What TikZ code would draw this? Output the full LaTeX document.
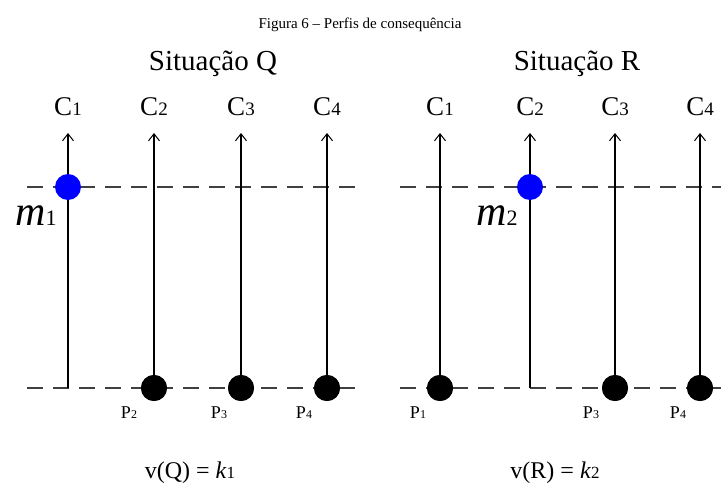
\documentclass[tikz,border=0pt]{standalone}
\usepackage{fontspec}
\setmainfont{Liberation Serif}
\usetikzlibrary{arrows.meta}
\newcommand{\fs}[1]{\fontsize{#1}{#1}\selectfont}
\begin{document}
\begin{tikzpicture}[x=1pt,y=-1pt,
  dline/.style={draw=black!75,line width=1.4pt,dash pattern=on 16pt off 10pt},
  axis/.style={draw=black,line width=1.2pt,-{Straight Barb[length=7pt,width=11pt,line width=1pt]}},
  bdot/.style={circle,fill=blue,inner sep=0pt,minimum size=26pt},
  kdot/.style={circle,fill=black,inner sep=0pt,minimum size=26pt},
  clab/.style={anchor=base,inner sep=0pt,font=\fs{27}},
  plab/.style={anchor=base,inner sep=0pt,font=\fs{18}},
  mlab/.style={anchor=base,inner sep=0pt},
  ttl/.style={anchor=base,inner sep=0pt}
]
\useasboundingbox (0,0) rectangle (721,490);
\node[ttl,font=\fs{15}] (title) at (360,28) {Figura 6 – Perfis de consequência};
\node[ttl,font=\fs{29}] (sq) at (213,70) {Situação Q};
\node[ttl,font=\fs{29}] (sr) at (577,70) {Situação R};
% --- Q ---
\coordinate (qtl) at (27,187); \coordinate (qtr) at (362,187);
\coordinate (qbl) at (27,388); \coordinate (qbr) at (362,388);
\draw[dline] (qtl) -- (qtr);
\draw[dline] (qbl) -- (qbr);
\coordinate (q1b) at (68,388);
\coordinate (q1t) at (68,133); \coordinate (q2t) at (154,133);
\coordinate (q3t) at (241,133); \coordinate (q4t) at (327,133);
\node[kdot] (qp2) at (154,388) {};
\node[kdot] (qp3) at (241,388) {};
\node[kdot] (qp4) at (327,388) {};
\draw[axis] (q1b) -- (q1t);
\draw[axis] (qp2.center) -- (q2t);
\draw[axis] (qp3.center) -- (q3t);
\draw[axis] (qp4.center) -- (q4t);
\node[kdot] at (154,388) {};
\node[kdot] at (241,388) {};
\node[kdot] at (327,388) {};
\node[bdot] (qm) at (68,187) {};
\node[clab] (qc1) at (68,115) {C{\fs{19}1}};
\node[clab] (qc2) at (154,115) {C{\fs{19}2}};
\node[clab] (qc3) at (241,115) {C{\fs{19}3}};
\node[clab] (qc4) at (327,115) {C{\fs{19}4}};
\node[mlab] (m1) at (36,225) {{\fs{42}\itshape m}{\fs{22}1}};
\node[plab] (p2) at (129,418) {P{\fs{12}2}};
\node[plab] (p3) at (219,418) {P{\fs{12}3}};
\node[plab] (p4) at (304,418) {P{\fs{12}4}};
\node[ttl,font=\fs{24}] (vq) at (190,478) {v(Q) = \textit{k}{\fs{17}1}};
% --- R ---
\coordinate (rtl) at (400,187); \coordinate (rtr) at (721,187);
\coordinate (rbl) at (400,388); \coordinate (rbr) at (721,388);
\draw[dline] (rtl) -- (rtr);
\draw[dline] (rbl) -- (rbr);
\coordinate (r2b) at (530,388);
\coordinate (r1t) at (440,133); \coordinate (r2t) at (530,133);
\coordinate (r3t) at (615,133); \coordinate (r4t) at (700,133);
\node[kdot] (rp1) at (440,388) {};
\node[kdot] (rp3) at (615,388) {};
\node[kdot] (rp4) at (700,388) {};
\draw[axis] (rp1.center) -- (r1t);
\draw[axis] (r2b) -- (r2t);
\draw[axis] (rp3.center) -- (r3t);
\draw[axis] (rp4.center) -- (r4t);
\node[kdot] at (440,388) {};
\node[kdot] at (615,388) {};
\node[kdot] at (700,388) {};
\node[bdot] (rm) at (530,187) {};
\node[clab] (rc1) at (440,115) {C{\fs{19}1}};
\node[clab] (rc2) at (530,115) {C{\fs{19}2}};
\node[clab] (rc3) at (615,115) {C{\fs{19}3}};
\node[clab] (rc4) at (700,115) {C{\fs{19}4}};
\node[mlab] (m2) at (497,225) {{\fs{42}\itshape m}{\fs{22}2}};
\node[plab] (p1) at (418,418) {P{\fs{12}1}};
\node[plab] (rp3l) at (591,418) {P{\fs{12}3}};
\node[plab] (rp4l) at (678,418) {P{\fs{12}4}};
\node[ttl,font=\fs{24}] (vr) at (555,478) {v(R) = \textit{k}{\fs{17}2}};
\end{tikzpicture}
\end{document}
